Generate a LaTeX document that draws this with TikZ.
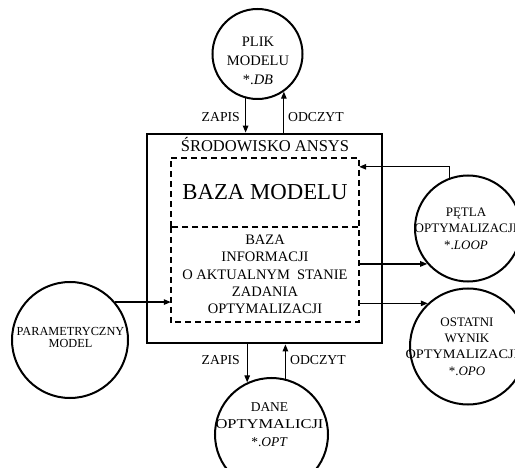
\documentclass[tikz,border=0pt]{standalone}
\usepackage{fontspec}
\setmainfont{Liberation Serif}
\usetikzlibrary{arrows.meta,calc}
\begin{document}
\begin{tikzpicture}[x=1pt,y=-1pt,
  circ/.style={draw,circle,line width=2pt,inner sep=0pt},
  ctext/.style={align=center,inner sep=0pt},
  dline/.style={dash pattern=on 6pt off 4pt,line width=1.5pt},
  arr/.style={line width=1.2pt,-{Triangle[length=7pt,width=5.5pt]}},
  lbl/.style={font=\fontsize{13.7}{15}\selectfont,inner sep=0pt}]
\useasboundingbox (0,0) rectangle (515,468);
\clip (0,0) rectangle (515,468);

% environment box
\node[draw,line width=2.8pt,minimum width=235pt,minimum height=209pt,inner sep=0pt] (env) at (264.5,238.5) {};
\node[font=\fontsize{16.5}{18}\selectfont,inner sep=0pt] (envt) at (265,145) {ŚRODOWISKO ANSYS};
\node[minimum width=188pt,minimum height=69pt,inner sep=0pt,font=\fontsize{22.8}{25}\selectfont] (bm) at (265,192.5) {BAZA MODELU};
\node[minimum width=188pt,minimum height=95pt,inner sep=0pt] (bi) at (265,274.5) {};
\draw[dline] (bm.south west) -- (bm.north west) -- (bm.north east) -- (bm.south east);
\draw[dline] (bi.north west) -- (bi.south west) -- (bi.south east) -- (bi.north east) -- (bi.north west);
\node[ctext,font=\fontsize{14.5}{17.3}\selectfont] (bit) at (265,274.5) {BAZA\\INFORMACJI\\O AKTUALNYM~ STANIE\\ZADANIA\\OPTYMALIZACJI};

% circles
\node[circ,minimum size=90pt] (plik) at (257.5,54) {};
\node[ctext,font=\fontsize{14.5}{19}\selectfont] (plikt) at (258,61) {PLIK\\MODELU\\*.\textit{DB}};

\node[circ,minimum size=106pt] (petla) at (468,228.5) {};
\node[ctext,font=\fontsize{13}{16.5}\selectfont] (petlat) at (466,228.5) {PĘTLA\\OPTYMALIZACJI\\*.\textit{LOOP}};

\node[circ,minimum size=116pt] (ost) at (468,346.5) {};
\node[ctext,font=\fontsize{13}{16.3}\selectfont] (ostt) at (467,346.5) {OSTATNI\\WYNIK\\\makebox[0pt]{\hspace*{-10pt}\scalebox{1.1}[1]{OPTYMALIZACJI}}\\*.\textit{OPO}};

\node[circ,minimum size=116pt] (param) at (70,340) {};
\node[ctext,font=\fontsize{12.3}{12.5}\selectfont] (paramt) at (70.5,337.5) {PARAMETRYCZNY\\MODEL};

\node[circ,minimum size=113pt] (dane) at (271.5,434.5) {};
\node[ctext,font=\fontsize{13.5}{17.5}\selectfont] (danet) at (269.5,424.5) {DANE\\\scalebox{1.22}[1]{OPTYMALICJI}\\*.\textit{OPT}};

% connectors
\draw[arr] (plik.255) -- (plik.255 |- env.north);
\draw[arr] (env.north -| plik.305) -- (plik.305);
\node[lbl,anchor=east] (z1) at (240,117) {ZAPIS};
\node[lbl,anchor=west] (o1) at (288,117) {ODCZYT};

\draw[arr] (env.south -| dane.115) -- (dane.115);
\draw[arr] (dane.76) -- (dane.76 |- env.south);
\node[lbl,anchor=east] (z2) at (240,360) {ZAPIS};
\node[lbl,anchor=west] (o2) at (290,360) {ODCZYT};

\draw[arr] (petla.110) |- ([yshift=-9pt]bm.north east);
\draw[arr] (bi.east |- petla.221) -- (petla.221);
\draw[arr] (bi.east |- ost.133) -- (ost.133);
\draw[arr] (param.40) -- (param.40 -| bi.west);
\end{tikzpicture}
\end{document}
